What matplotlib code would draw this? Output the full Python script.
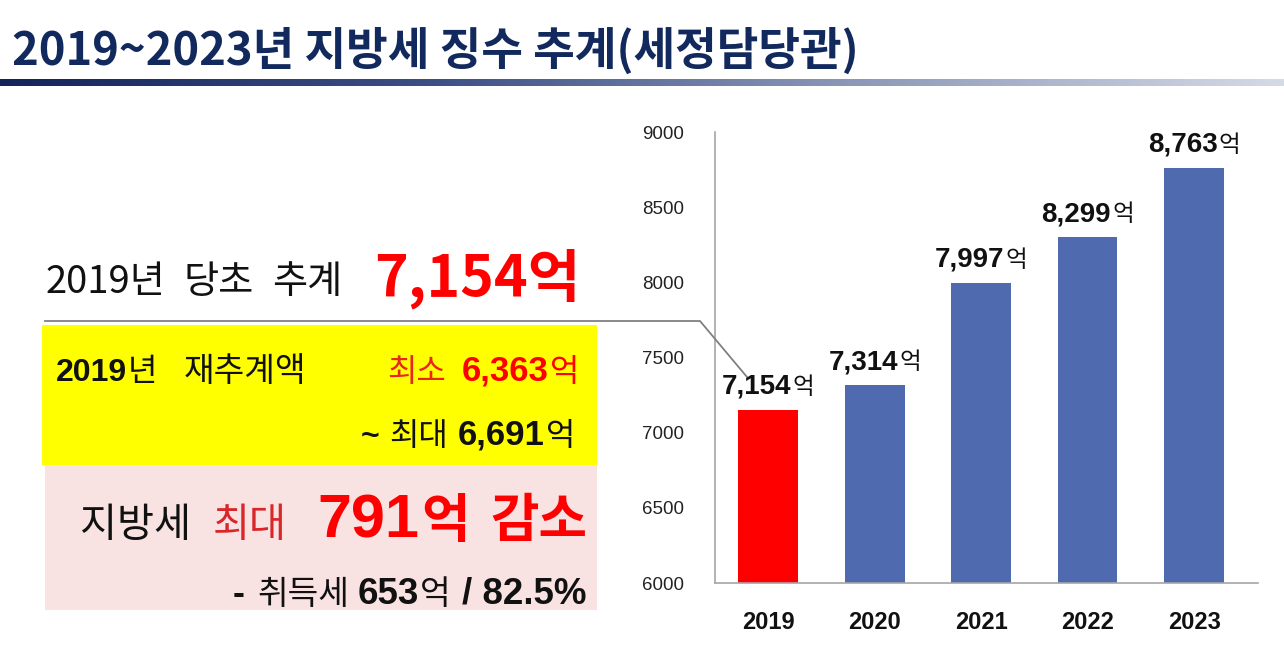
import matplotlib
matplotlib.use("Agg")
import matplotlib.pyplot as plt
import numpy as np
from matplotlib.colors import LinearSegmentedColormap

# ---------------- data ----------------
years = ["2019", "2020", "2021", "2022", "2023"]
values = [7154, 7314, 7997, 8299, 8763]
value_labels = ["7,154", "7,314", "7,997", "8,299", "8,763"]
unit = "억"
y_ticks = [6000, 6500, 7000, 7500, 8000, 8500, 9000]
bar_colors = ["#FF0000", "#4F6AAE", "#4F6AAE", "#4F6AAE", "#4F6AAE"]

title = "2019~2023년 지방세 징수 추계(세정담당관)"

W, H = 1284, 666
fig = plt.figure(figsize=(W / 100, H / 100), dpi=100)
fig.patch.set_facecolor("white")

KR = ["Noto Sans CJK KR", "DejaVu Sans"]
NUM = ["Liberation Sans", "DejaVu Sans"]

# ---------------- bar chart ----------------
ax = fig.add_axes([715 / W, 1 - 583 / H, (1258 - 715) / W, (583 - 132) / H])
x = np.arange(len(years))
ax.bar(x, [v - 6000 for v in values], bottom=6000, width=0.56, color=bar_colors, zorder=2)
ax.set_xlim(-0.5, 4.6)
ax.set_ylim(6000, 9000)
ax.set_yticks(y_ticks)
ax.set_yticklabels([str(t) for t in y_ticks], fontsize=13.5, color="#222222", family=NUM)
ax.set_xticks(x)
ax.set_xticklabels(years, fontsize=17, fontweight="bold", color="#111111", family=NUM)
ax.tick_params(axis="y", length=0, pad=22)
ax.tick_params(axis="x", length=0, pad=20)
for s in ["top", "right"]:
    ax.spines[s].set_visible(False)
for s in ["left", "bottom"]:
    ax.spines[s].set_color("#A6A6A6")
    ax.spines[s].set_linewidth(1.2)
ax.set_facecolor("none")

# ---------------- overlay (pixel coords) ----------------
ov = fig.add_axes([0, 0, 1, 1], zorder=5)
ov.set_xlim(0, W)
ov.set_ylim(H, 0)
ov.axis("off")

fig.canvas.draw()
R = fig.canvas.get_renderer()


def width_of(t):
    return t.get_window_extent(R).width


def fit_text(s, x0, x1, yb, color="black", weight="normal", family=KR):
    t = ov.text(x0, yb, s, fontsize=20, color=color, fontweight=weight,
                family=family, ha="left", va="baseline")
    w = width_of(t)
    t.set_fontsize(20 * (x1 - x0) / w)
    return t


def group(segs, xa, yb, ha="left"):
    """segs: list of (text, size, color, weight, family, gap_after_px)."""
    texts = []
    widths = []
    for s, size, color, weight, fam, gap in segs:
        t = ov.text(0, yb, s, fontsize=size, color=color, fontweight=weight,
                    family=fam, ha="left", va="baseline")
        texts.append(t)
        widths.append(width_of(t) + gap)
    total = sum(widths) - segs[-1][5]
    xpos = xa if ha == "left" else xa - total
    for t, w in zip(texts, widths):
        t.set_x(xpos)
        xpos += w


# title
fit_text(title, 12, 858, 65, color="#12295E", weight="bold")

# gradient underline
grad = np.linspace(0, 1, 512).reshape(1, -1)
cmap = LinearSegmentedColormap.from_list("u", ["#14245A", "#3C4F84", "#8C98B8", "#D5DAE6"])
ov.imshow(grad, extent=[0, W, 86, 79], aspect="auto", cmap=cmap, zorder=1)

BLACK = "#111111"
RED = "#FF0000"

# line 1
group([("2019년", 27.5, BLACK, "normal", KR, 18),
       ("당초", 27.5, BLACK, "normal", KR, 18),
       ("추계", 27.5, BLACK, "normal", KR, 0)], 46, 293)
fit_text("7,154억", 374, 580, 296, color=RED, weight="bold")

# connector line
ov.plot([45, 700, 747], [321, 321, 377], color="#808080", lw=1.3, zorder=3)

# boxes
ov.add_patch(plt.Rectangle((42, 325), 555, 140, facecolor="#FFFF00", edgecolor="none", zorder=0))
ov.add_patch(plt.Rectangle((45, 465), 552, 145, facecolor="#F9E2E2", edgecolor="none", zorder=0))

# yellow box text
group([("2019", 23, BLACK, "bold", NUM, 1),
       ("년", 23, BLACK, "normal", KR, 0)], 56, 381)
group([("재추계액", 24, BLACK, "normal", KR, 0)], 184, 381)
group([("최소", 23, "#E8261C", "normal", KR, 16),
       ("6,363", 25, RED, "bold", NUM, 1),
       ("억", 23, RED, "normal", KR, 0)], 579, 381, ha="right")

group([("~", 23, BLACK, "bold", NUM, 10),
       ("최대", 23, BLACK, "normal", KR, 10),
       ("6,691", 25, BLACK, "bold", NUM, 1),
       ("억", 23, BLACK, "normal", KR, 0)], 575, 445, ha="right")

# pink box text
group([("지방세", 29, BLACK, "normal", KR, 0)], 80, 537)
group([("최대", 29, "#D9262A", "normal", KR, 0)], 213, 537)
group([("791", 44, RED, "bold", NUM, 2),
       ("억", 38, RED, "bold", KR, 20),
       ("감소", 38, RED, "bold", KR, 0)], 587, 537, ha="right")

group([("-", 26, BLACK, "bold", NUM, 13),
       ("취득세", 24, BLACK, "normal", KR, 8),
       ("653", 26.5, BLACK, "bold", NUM, 1),
       ("억", 24, BLACK, "normal", KR, 11),
       ("/ 82.5%", 26.5, BLACK, "bold", NUM, 0)], 586, 604, ha="right")

# value labels above bars
for i, (v, lab) in enumerate(zip(values, value_labels)):
    xd, yd = ax.transData.transform((i, v))
    px, py = xd, H - yd - 16
    t1 = ov.text(0, py, lab, fontsize=20, fontweight="bold", family=NUM,
                 color=BLACK, ha="left", va="baseline")
    t2 = ov.text(0, py, unit, fontsize=17, family=KR, color=BLACK,
                 ha="left", va="baseline")
    w1, w2 = width_of(t1), width_of(t2)
    start = px - (w1 + w2 + 1) / 2
    t1.set_x(start)
    t2.set_x(start + w1 + 1)

fig.savefig("out.png", dpi=100)
